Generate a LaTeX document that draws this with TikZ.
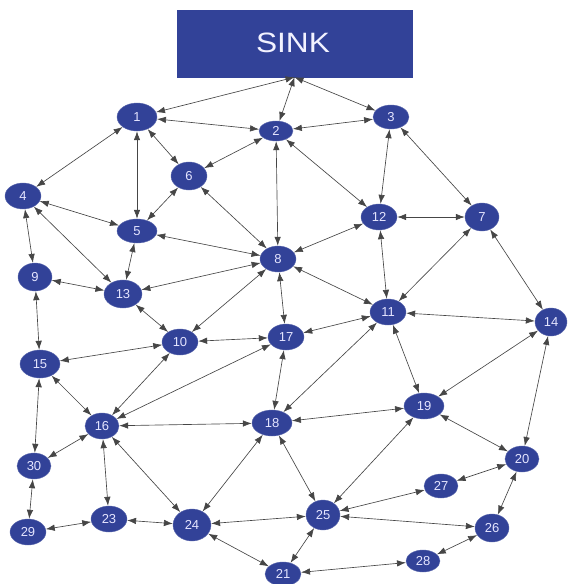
\documentclass[tikz,border=0pt]{standalone}
\usepackage{fontspec}
\setmainfont{Liberation Sans}
\usetikzlibrary{shapes.geometric,arrows.meta}
\definecolor{nodeblue}{RGB}{50,66,152}
\definecolor{edgegray}{RGB}{70,70,70}
\tikzset{
  vert/.style={ellipse, fill=nodeblue, draw=nodeblue!80!white, line width=0.4pt,
    inner sep=0pt, text=white!90!blue, font=\fontsize{13}{13}\selectfont},
  sinkbox/.style={rectangle, fill=nodeblue, draw=nodeblue, minimum width=235pt,
    minimum height=67pt, text=white!95!blue, font=\fontsize{28}{28}\selectfont},
  link/.style={draw=edgegray, line width=0.65pt,
    {Latex[length=9pt,width=6.5pt]}-{Latex[length=9pt,width=6.5pt]}},
}
\newcommand{\vnode}[5]{\node[vert, minimum width=#3pt, minimum height=#4pt] (n#1) at (#2) {#5};}
\begin{document}
\begin{tikzpicture}[x=1pt,y=-1pt]
\useasboundingbox (0,0) rectangle (568,584);
\node[sinkbox] (sink) at (294.5,43.5) {};
\node[text=white!95!blue, font=\fontsize{28}{28}\selectfont] (sinklabel) at (293,43) {\scalebox{1.13}[1]{SINK}};
\vnode{1}{137,117}{40}{28}{1}
\vnode{2}{276,131}{34}{20}{2}
\vnode{3}{391,117}{36}{24}{3}
\vnode{4}{23,196}{36}{26}{4}
\vnode{5}{137,231}{40}{24}{5}
\vnode{6}{189,176}{36}{28}{6}
\vnode{7}{482,217}{34}{28}{7}
\vnode{8}{278,259}{36}{26}{8}
\vnode{9}{35,277}{34}{28}{9}
\vnode{10}{180,342}{36}{26}{10}
\vnode{11}{388,312}{36}{26}{11}
\vnode{12}{379,217}{36}{26}{12}
\vnode{13}{123,294}{38}{28}{13}
\vnode{14}{551,322}{32}{28}{14}
\vnode{15}{40,364}{40}{28}{15}
\vnode{16}{102,426}{34}{26}{16}
\vnode{17}{286,337}{36}{26}{17}
\vnode{18}{272,423}{40}{26}{18}
\vnode{19}{424,406}{40}{26}{19}
\vnode{20}{522,459}{34}{26}{20}
\vnode{21}{283,574}{36}{24}{21}
\vnode{23}{109,519}{36}{26}{23}
\vnode{24}{192,525}{38}{32}{24}
\vnode{25}{323,515}{34}{30}{25}
\vnode{26}{492,528}{34}{28}{26}
\vnode{27}{441,486}{34}{24}{27}
\vnode{28}{423,561}{34}{22}{28}
\vnode{29}{28,532}{36}{26}{29}
\vnode{30}{34,466}{34}{26}{30}
% links to the sink
\draw[link] (sink.south) -- (n1);
\draw[link] (sink.south) -- (n2);
\draw[link] (sink.south) -- (n3);
% upper part
\foreach \a/\b in {1/2, 1/6, 1/5, 1/4, 2/6, 2/3, 2/8, 2/12, 3/12, 3/7,
  4/5, 4/9, 4/13, 5/6, 5/8, 5/13, 6/8, 8/12, 8/13, 8/10, 8/17, 8/11,
  7/12, 7/11, 7/14, 9/13, 9/15, 10/13, 10/15, 10/17, 10/16,
  11/12, 11/17, 11/14, 11/18, 11/19, 14/19, 14/20}
  \draw[link] (n\a) -- (n\b);
% lower part
\foreach \a/\b in {15/16, 15/30, 16/17, 16/18, 16/30, 16/23, 16/24, 17/18,
  18/19, 18/24, 18/25, 19/25, 19/20, 20/27, 20/26, 21/24, 21/25, 21/28,
  23/29, 23/24, 24/25, 25/27, 25/26, 26/28, 29/30}
  \draw[link] (n\a) -- (n\b);
\end{tikzpicture}
\end{document}
